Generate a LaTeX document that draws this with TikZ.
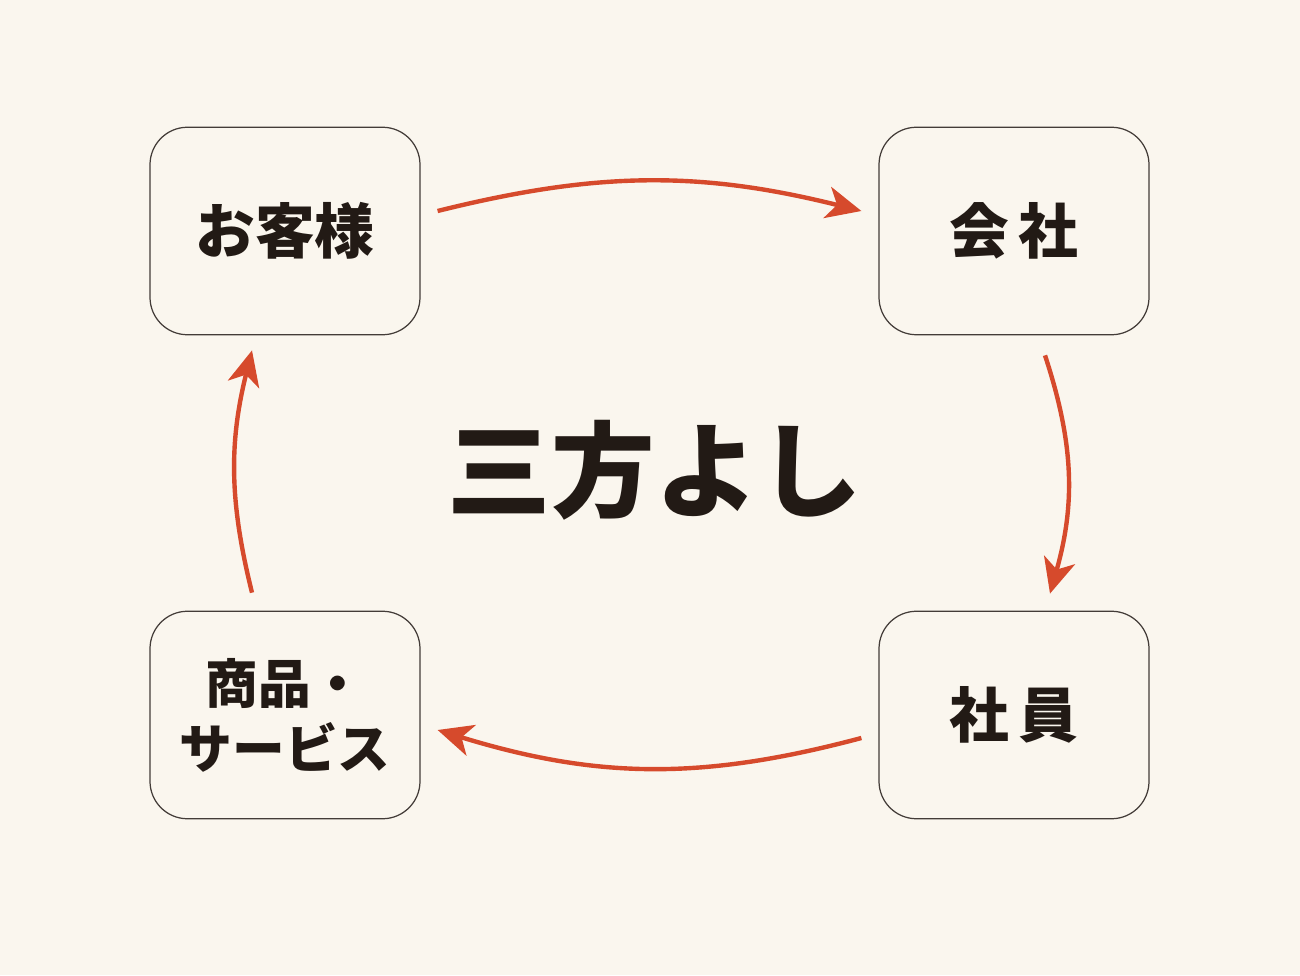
\documentclass[tikz,border=0pt]{standalone}
\usepackage{fontspec}
\setmainfont{Noto Sans CJK JP}
\definecolor{paper}{HTML}{FAF6EE}
\definecolor{ink}{HTML}{221A15}
\definecolor{flowred}{HTML}{D64A2C}
\tikzset{box/.style = {draw=ink!85, line width=0.7pt, rounded corners=0.75cm, minimum width=5.4cm, minimum height=4.15cm, align=center, text=ink, font=\bfseries\fontsize{34}{37}\selectfont}}
\tikzset{flow/.style = {draw=flowred, line width=2.5pt, -{Stealth[length=7mm, width=6.4mm, inset=2mm]}}}
\usetikzlibrary{arrows.meta}

\begin{document}
\begin{tikzpicture}
      \fill [paper] (0, 0) rectangle (26, 19.5);
      \useasboundingbox (0, 0) rectangle (26, 19.5);
      \node [box] (kyaku) at (5.7, 14.88) {お客様};
      \node [box] (kaisha) at (20.28, 14.88) {会\,社};
      \node [box] (shain) at (20.28, 5.2) {社\,員};
      \node [box, font=\bfseries\fontsize{30}{37}\selectfont] (shohin) at (5.7, 5.2) {商品・\\サービス};
      \node [text=ink, font=\bfseries\fontsize{59}{60}\selectfont] (sanpo) at (13.1, 10.1) {三方よし};
      % the cycle
      \draw [flow] ([xshift=0.34cm, yshift=0.4cm]kyaku.east) to [bend left=14] ([xshift=-0.34cm, yshift=0.4cm]kaisha.west);
      \draw [flow] ([xshift=0.62cm, yshift=-0.4cm]kaisha.south) to [bend left=17] ([xshift=0.72cm, yshift=0.34cm]shain.north);
      \draw [flow] ([xshift=-0.34cm, yshift=-0.46cm]shain.west) to [bend left=16] ([xshift=0.34cm, yshift=-0.3cm]shohin.east);
      \draw [flow] ([xshift=-0.66cm, yshift=0.36cm]shohin.north) to [bend left=14] ([xshift=-0.66cm, yshift=-0.3cm]kyaku.south);
\end{tikzpicture}
\end{document}
